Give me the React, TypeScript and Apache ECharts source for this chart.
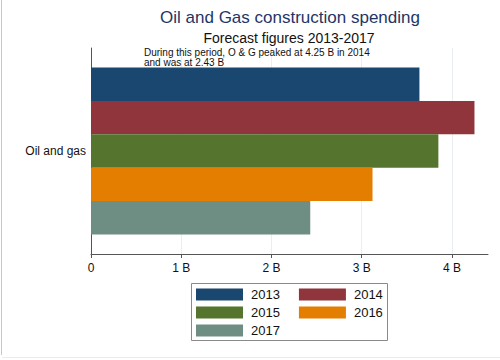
import React, { useEffect, useRef } from "react";
import * as echarts from "echarts";

const categories = ["Oil and gas"];
const years = ["2013", "2014", "2015", "2016", "2017"];
const values = [3.64, 4.25, 3.85, 3.12, 2.43];
const colors = ["#1a476f", "#90353b", "#55752f", "#e37e00", "#6e8e84"];
const xTicks = [0, 1, 2, 3, 4];
const xTickLabels = ["0", "1 B", "2 B", "3 B", "4 B"];
const titleText = "Oil and Gas construction spending";
const subtitleText = "Forecast figures 2013-2017";
const noteLines = ["During this period, O & G peaked at 4.25 B in 2014", "and was at 2.43 B"];

const FONT = "'Liberation Sans', Arial, sans-serif";

export default function App() {
  const ref = useRef<HTMLDivElement>(null);
  useEffect(() => {
    if (!ref.current) return;
    const chart = echarts.init(ref.current, undefined, { renderer: "svg" });
    const series: any[] = years.map((y, i) => ({
      name: y,
      type: "bar",
      data: [values[i]],
      itemStyle: { color: colors[i] },
      barGap: "0%",
      barCategoryGap: "19%",
      z: 3,
    }));
    series[0].markLine = {
      silent: true,
      symbol: ["none", "none"],
      label: { show: false },
      lineStyle: { color: "#e8eef2", width: 1, type: "solid" },
      z: 1,
      data: xTicks.slice(1).map((v) => ({ xAxis: v })),
    };
    const legendRows = [
      [years[0], years[1]],
      [years[2], years[3]],
      [years[4]],
    ];
    chart.setOption({
      animation: false,
      backgroundColor: "#ffffff",
      textStyle: { fontFamily: FONT },
      title: [
        {
          text: titleText,
          left: 290,
          top: 9,
          textAlign: "center",
          textStyle: { fontSize: 17, fontWeight: "normal", color: "#1f3566", fontFamily: FONT },
          padding: 0,
        },
        {
          text: subtitleText,
          left: 289,
          top: 31,
          textAlign: "center",
          textStyle: { fontSize: 14, fontWeight: "normal", color: "#111", fontFamily: FONT },
          padding: 0,
        },
      ],
      legend: legendRows.map((row, r) => ({
        data: row,
        left: 196,
        top: 288 + r * 18,
        orient: "horizontal",
        padding: 0,
        itemWidth: 47,
        itemHeight: 12,
        itemGap: 19,
        icon: "rect",
        selectedMode: false,
        textStyle: { fontSize: 13, color: "#111", fontFamily: FONT, padding: [0, 0, 0, 3] },
      })),
      grid: { left: 91, right: 12, top: 48, bottom: 106, containLabel: false },
      xAxis: {
        type: "value",
        min: 0,
        max: 4.4,
        axisLine: { show: true, lineStyle: { color: "#555", width: 1 } },
        axisTick: { show: true, length: 4, lineStyle: { color: "#555" }, customValues: xTicks },
        axisLabel: {
          margin: 8,
          fontSize: 12,
          color: "#111",
          fontFamily: FONT,
          customValues: xTicks,
          formatter: (v: number) => {
            const idx = xTicks.indexOf(v);
            return idx >= 0 ? xTickLabels[idx] : "";
          },
        },
        splitLine: { show: false },
      },
      yAxis: {
        type: "category",
        data: categories,
        inverse: true,
        axisLine: { show: true, lineStyle: { color: "#555", width: 1 } },
        axisTick: { show: false },
        axisLabel: { margin: 5, fontSize: 12, color: "#111", fontFamily: FONT },
        splitLine: { show: false },
      },
      series,
      graphic: [
        {
          type: "line",
          shape: { x1: 1.5, y1: 0, x2: 1.5, y2: 355 },
          style: { stroke: "#c8c8c8", lineWidth: 1 },
          silent: true,
        },
        {
          type: "line",
          shape: { x1: 2, y1: 357.5, x2: 500, y2: 357.5 },
          style: { stroke: "#e6edf2", lineWidth: 1 },
          silent: true,
        },
        {
          type: "text",
          left: 144,
          top: 47,
          z: 100,
          style: {
            text: noteLines.join("\n"),
            fontSize: 10,
            lineHeight: 10,
            fill: "#111",
            fontFamily: FONT,
          },
          silent: true,
        },
        {
          type: "rect",
          shape: { x: 191.5, y: 283.5, width: 196, height: 57 },
          style: { fill: "none", stroke: "#8a8a8a", lineWidth: 1 },
          silent: true,
        },
      ],
    });
    return () => chart.dispose();
  }, []);
  return (
    <div
      ref={ref}
      style={{ position: "fixed", left: 0, top: 0, width: 500, height: 360 }}
    />
  );
}
